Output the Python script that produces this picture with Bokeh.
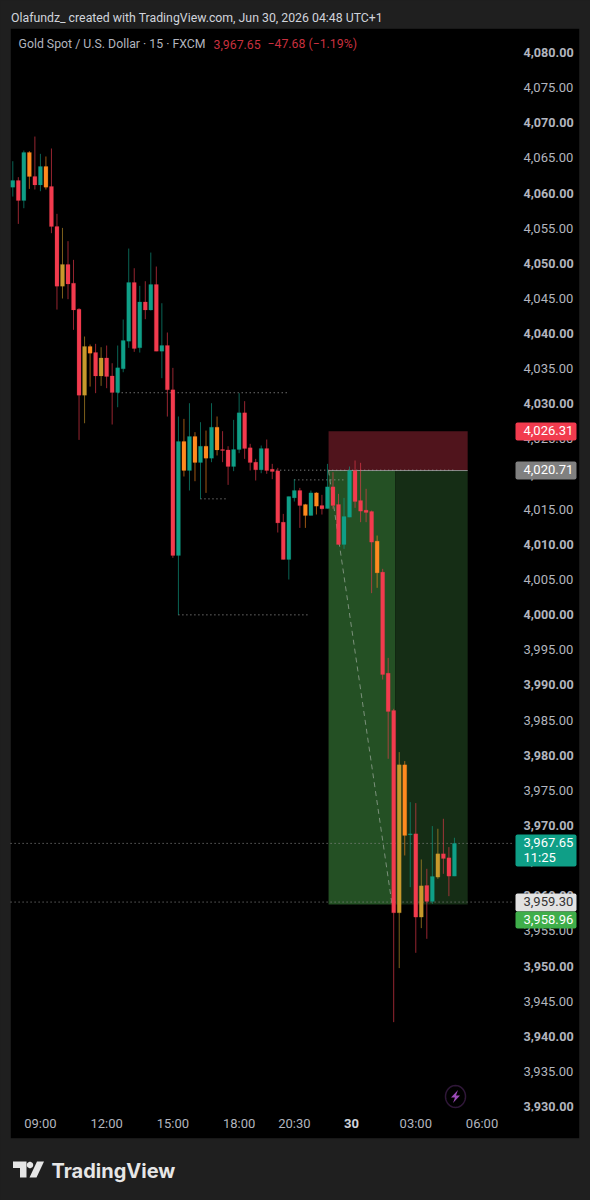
import math
from bokeh.embed import file_html
from bokeh.models import (BoxAnnotation, ColumnDataSource, FixedTicker, Label, LinearAxis,
                          PolyAnnotation, Range1d)
from bokeh.plotting import figure
from bokeh.resources import INLINE

opens = [4061.03,4061.98,4059.13,4065.97,4062.55,4061.36,4063.97,4061.13,4055.43,4046.94,
         4050.03,4047.37,4043.67,4031.43,4038.36,4037.50,4034.18,4036.74,4034.18,4031.81,
         4035.18,4039.12,4047.47,4038.17,4044.71,4043.57,4047.18,4037.69,4038.50,4032.19,
         4008.62,4024.84,4020.71,4025.55,4021.85,4024.17,4022.47,4026.88,4023.70,4023.65,
         4021.28,4023.70,4028.92,4023.94,4021.90,4020.81,4023.84,4020.90,4020.66,4013.36,
         4008.05,4016.82,4017.87,4015.87,4014.31,4017.53,4015.73,4015.30,4018.39,4015.88,
         4010.18,4014.07,4020.71,4016.44,4015.07,4014.88,4010.66,4006.25,3991.87,3986.57,
         3957.77,3978.83,3968.87,3969.01,3957.16,3961.66,3959.39,3962.85,3966.17,3965.60,3962.99]
highs = [4064.73,4062.46,4066.25,4066.16,4068.24,4065.78,4065.40,4066.54,4057.24,4055.24,
         4053.35,4050.69,4043.81,4039.78,4038.64,4038.74,4038.26,4038.50,4035.98,4038.50,
         4042.20,4052.30,4049.50,4046.99,4047.65,4051.73,4049.74,4044.52,4040.35,4035.32,
         4028.40,4028.06,4030.29,4026.17,4027.59,4026.40,4030.29,4028.40,4026.31,4024.17,
         4027.92,4031.72,4030.58,4024.51,4022.37,4024.27,4025.12,4021.66,4021.09,4014.54,
         4017.01,4019.48,4018.24,4015.97,4017.87,4017.63,4017.25,4021.66,4020.47,4017.39,
         4016.82,4021.28,4022.14,4021.81,4018.11,4015.02,4011.46,4006.72,3994.05,3986.80,
         3980.64,3979.36,3973.52,3973.38,3965.36,3964.03,3970.11,3969.73,3971.15,3967.12,3968.45]
lows = [4059.70,4055.81,4058.04,4060.79,4060.70,4060.46,4060.70,4054.49,4043.62,4045.19,
        4045.09,4040.73,4025.07,4027.44,4032.66,4031.72,4032.76,4032.43,4027.26,4029.72,
        4034.70,4038.17,4037.60,4037.50,4042.25,4043.48,4037.69,4033.85,4028.39,4008.28,
        4000.17,4019.86,4017.87,4019.19,4016.68,4017.53,4021.90,4022.85,4021.90,4018.67,
        4020.62,4023.18,4022.37,4020.71,4019.29,4020.33,4020.24,4019.48,4011.89,4008.05,
        4005.20,4016.30,4012.55,4012.55,4014.31,4014.45,4014.45,4015.30,4015.26,4010.18,
        4009.56,4014.07,4015.40,4013.36,4013.36,4003.26,4004.02,3990.97,3979.69,3942.21,
        3949.90,3965.93,3961.42,3952.08,3955.59,3954.07,3959.05,3962.61,3963.32,3960.14,3962.99]
closes = [4061.98,4059.13,4065.97,4062.55,4061.36,4063.97,4061.03,4055.43,4046.94,4050.03,
          4047.27,4043.57,4031.43,4038.36,4037.41,4034.18,4036.74,4034.09,4031.81,4035.32,
          4039.21,4047.47,4038.07,4044.71,4043.57,4047.18,4037.69,4038.50,4032.19,4008.62,
          4024.84,4020.71,4025.55,4021.85,4024.17,4022.47,4026.88,4023.65,4023.56,4021.28,
          4023.70,4028.92,4023.84,4021.85,4020.81,4023.84,4020.71,4020.57,4013.26,4008.05,
          4017.01,4017.87,4015.73,4014.31,4017.53,4015.64,4015.26,4018.39,4015.73,4010.18,
          4014.17,4020.71,4016.30,4014.93,4014.74,4010.52,4006.15,3991.68,3986.42,3957.77,
          3978.83,3968.78,3969.01,3957.16,3961.61,3959.39,3962.94,3966.17,3965.50,3962.99,3967.65]
candle_kind = list("TRTORTORRG" "RRRGORGRRT" "TTRTRTRTRR" "TOTOTOTORR" "TTRRRTRRRR"
                   "TTROTORTRR" "TTRRRRORRR" "GOTRGRTGRR" "T")

bold_prices = [4080,4070,4060,4050,4040,4030,4020,4010,4000,3990,3980,3970,3960,3950,3940,3930]
plain_prices = [4075,4065,4055,4045,4035,4025,4015,4005,3995,3985,3975,3965,3955,3945,3935]
time_ticks = [5, 17, 29, 41, 51, 61, 73, 85]
time_labels = ["09:00", "12:00", "15:00", "18:00", "20:30", "30", "03:00", "06:00"]

entry_price, stop_price, target_price = 4020.71, 4026.31, 3958.96
tool_left, tool_split, tool_right = 57.2, 69.3, 82.4
last_price, other_price = 3967.65, 3959.30
dotted_prices = [4031.78, 4016.68, 4000.17, 4020.76, 4019.38]
dotted_starts = [19, 34, 30, 47, 51]
dotted_ends = [49.8, 39, 53.6, 80, 60]

BG = "#1f1f1f"
AXIS_TEXT = "#b2b5be"
KIND_COLOR = {"R": "#f23b4e", "T": "#0f9f87", "O": "#ff8a1f", "G": "#c8992c"}
colors = [KIND_COLOR[k] for k in candle_kind]
LIFT = 0.2  # tick text sits slightly above its price, as in the reference

p = figure(width=590, height=1200, output_backend="svg", toolbar_location=None,
           x_range=Range1d(-2.228, 104.65), y_range=Range1d(3916.83, 4087.60),
           min_border=0, x_axis_location=None, y_axis_location=None,
           background_fill_color=BG, border_fill_color=BG, outline_line_color=None)
p.grid.visible = False


def box(l, t, r, b, fill, line=None, level="overlay", radius=0):
    p.add_layout(BoxAnnotation(left=l, right=r, top=t, bottom=b,
                               left_units="canvas", right_units="canvas", top_units="canvas",
                               bottom_units="canvas", fill_color=fill, fill_alpha=1, line_color=line,
                               level=level, border_radius=radius, editable=False))


def text(s, x, y, size=13, color=AXIS_TEXT, style="normal", font="Roboto", level="overlay"):
    p.add_layout(Label(x=x, y=y, x_units="canvas", y_units="canvas", text=s,
                       text_font=font, text_font_size=f"{size}px", text_color=color,
                       text_font_style=style, text_baseline="middle", text_align="left",
                       level=level))


def poly(xs, ys, fill, line=None, width=1):
    p.add_layout(PolyAnnotation(xs=xs, ys=ys, xs_units="canvas", ys_units="canvas",
                                fill_color=fill, fill_alpha=1 if fill else 0, line_color=line,
                                line_width=width, level="overlay", editable=False))


box(10, 28, 579, 1138, "#000000", "#2e2e2e", level="image")

# position tool
p.quad(left=[tool_left], right=[tool_right], bottom=[entry_price], top=[stop_price],
       fill_color="#50141c", line_color=None)
p.quad(left=[tool_left], right=[tool_split], bottom=[target_price], top=[entry_price],
       fill_color="#245024", line_color=None)
p.quad(left=[tool_split], right=[tool_right], bottom=[target_price], top=[entry_price],
       fill_color="#152d15", line_color=None)
p.segment(x0=[tool_left], x1=[tool_right], y0=[entry_price], y1=[entry_price],
          line_color="#8a8a8a", line_width=1)
p.segment(x0=[tool_left], x1=[tool_split - 0.6], y0=[entry_price], y1=[target_price],
          line_color="#7a907a", line_width=1, line_dash="5 4")

# dotted levels
p.segment(x0=dotted_starts, x1=dotted_ends, y0=dotted_prices, y1=dotted_prices,
          line_color="#a0a0a0", line_width=1, line_dash="1 3")
p.segment(x0=[-0.4, -0.4], x1=[90.5, 90.5], y0=[last_price, other_price], y1=[last_price, other_price],
          line_color="#8c8c8c", line_width=1, line_dash="1 3")

# candles
xs = list(range(len(opens)))
src = ColumnDataSource(dict(x=xs, high=highs, low=lows, color=colors,
                            top=[max(o, c) for o, c in zip(opens, closes)],
                            bottom=[min(o, c) for o, c in zip(opens, closes)]))
p.segment(x0="x", x1="x", y0="low", y1="high", color="color", line_width=1, line_alpha=0.62, source=src)
p.vbar(x="x", width=0.72, top="top", bottom="bottom", fill_color="color", line_color="color",
       line_width=0.2, source=src)

# axes
ytick_pos = [v + LIFT for v in plain_prices]
yax = LinearAxis(ticker=FixedTicker(ticks=ytick_pos),
                 major_label_overrides={t: f"{v:,.2f}" for t, v in zip(ytick_pos, plain_prices)},
                 major_tick_line_color=None, minor_tick_line_color=None, axis_line_color=None,
                 major_label_text_color=AXIS_TEXT, major_label_text_font="Roboto",
                 major_label_text_font_size="13px", major_label_standoff=-73)
p.add_layout(yax, "right")
xax = LinearAxis(ticker=FixedTicker(ticks=time_ticks),
                 major_label_overrides={t: ("" if l == "30" else l) for t, l in zip(time_ticks, time_labels)},
                 major_tick_line_color=None, minor_tick_line_color=None, axis_line_color=None,
                 major_label_text_color=AXIS_TEXT, major_label_text_font="Roboto",
                 major_label_text_font_size="13px", major_label_standoff=-91)
p.add_layout(xax, "below")

for v in bold_prices:
    p.add_layout(Label(x=523, y=v + LIFT, x_units="canvas", y_units="data", text=f"{v:,.2f}",
                       text_font="Roboto", text_font_size="12.6px", text_font_style="bold",
                       text_color=AXIS_TEXT, text_baseline="middle", level="annotation"))
text("30", 343.5, 1123, style="bold", color="#d1d4dc", level="annotation")
box(515, 1111, 578, 1118, "#000000")

# price tags
box(515, 422, 576, 440, "#f23b4e", radius=2)
text(f"{stop_price:,.2f}", 523, 430, color="#ffffff")
box(515, 461, 576, 479, "#808080", radius=2)
text(f"{entry_price:,.2f}", 523, 469, color="#ffffff")
box(515, 834, 576, 866, "#0f9f87", radius=2)
text(f"{last_price:,.2f}", 523, 842, color="#ffffff")
text("11:25", 523, 857, color="#ffffff")
box(515, 893, 576, 911, "#e2e2e2", radius=2)
text(f"{other_price:,.2f}", 523, 901, color="#333333")
box(515, 911, 576, 928, "#3fae4a", radius=2)
text(f"{target_price:,.2f}", 523, 919, color="#ffffff")

# header
text("Olafundz_ created with TradingView.com, Jun 30, 2026 04:48 UTC+1", 10.5, 17.5, size=12.3, color="#d1d4dc")
text("Gold Spot / U.S. Dollar · 15 · FXCM", 18, 43.5, size=12.3, color="#b2b5be")
text(f"{last_price:,.2f}", 213, 43.5, size=12.3, color="#c9303f")
text("−47.68 (−1.19%)", 267, 43.5, size=12.3, color="#c9303f")

# purple badge
ring = [i * 2 * math.pi / 40 for i in range(40)]
poly([455 + 10 * math.cos(a) for a in ring], [1096 + 11 * math.sin(a) for a in ring], None, "#9c4bb8", 1.5)
poly([457.5, 450.5, 454.5, 452.5, 459.5, 455.5], [1089.5, 1097, 1097, 1102.5, 1095, 1095], "#9c4bb8")

# footer logo
poly([12.5, 26, 26, 19.5, 19.5, 12.5], [1161, 1161, 1177, 1177, 1167.5, 1167.5], "#e6e6e6")
poly([29.5 + 3.2 * math.cos(a) for a in ring], [1164.5 + 3.2 * math.sin(a) for a in ring], "#e6e6e6")
poly([36.5, 43.5, 36, 29], [1161, 1161, 1177, 1177], "#e6e6e6")
text("TradingView", 51, 1170, size=20, color="#e6e6e6", style="bold", font="Inter")

html = file_html(p, INLINE)
html = html.replace("</head>", "<style>html,body{background:#1f1f1f}</style></head>", 1)
open("out.html", "w").write(html)
